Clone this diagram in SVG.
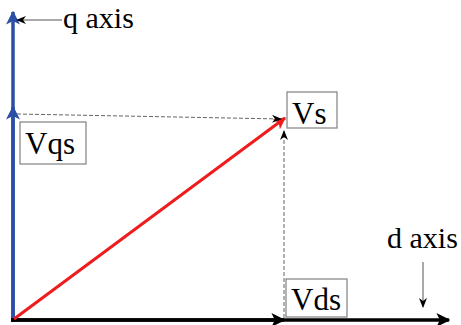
<svg xmlns="http://www.w3.org/2000/svg" width="461" height="325" viewBox="0 0 461 325">
<style>
.box{fill:#fff;stroke:#808080;stroke-width:1.2}
.dash{fill:none;stroke:#666;stroke-width:1;stroke-dasharray:4,2}
.thin{fill:none;stroke:#555;stroke-width:1}
</style>
<defs>
<marker id="ab" markerWidth="4" markerHeight="4" refX="3.6" refY="2" orient="auto" markerUnits="strokeWidth"><path d="M0,0 L4,2 L0,4 L1,2 z" fill="#2B4FA6"/></marker>
<marker id="ak" markerWidth="4" markerHeight="4" refX="3.6" refY="2" orient="auto" markerUnits="strokeWidth"><path d="M0,0 L4,2 L0,4 L1,2 z" fill="#000"/></marker>
<marker id="ar" markerWidth="4" markerHeight="4" refX="3.6" refY="2" orient="auto" markerUnits="strokeWidth"><path d="M0,0 L4,2 L0,4 L1,2 z" fill="#EE1C1C"/></marker>
<marker id="as" markerWidth="10" markerHeight="8" refX="9" refY="4" orient="auto" markerUnits="userSpaceOnUse"><path d="M0,0 L10,4 L0,8 L3,4 z" fill="#000"/></marker>
</defs>
<g id="connectors">
<line x1="13" y1="322" x2="13" y2="12" stroke="#2B4FA6" stroke-width="3.5" marker-end="url(#ab)"/>
<line x1="13" y1="322" x2="13" y2="107" stroke="#2B4FA6" stroke-width="3.5" marker-end="url(#ab)"/>
<line x1="11" y1="320" x2="449" y2="320" stroke="#000" stroke-width="3.5" marker-end="url(#ak)"/>
<line x1="11" y1="320" x2="284" y2="320" stroke="#000" stroke-width="3.5" marker-end="url(#ak)"/>
<line x1="14" y1="319" x2="285" y2="118" stroke="#EE1C1C" stroke-width="3" marker-end="url(#ar)"/>
<line x1="17" y1="114" x2="281" y2="119" class="dash" marker-end="url(#as)"/>
<line x1="284" y1="318" x2="284" y2="131" class="dash" marker-end="url(#as)"/>
<line x1="62" y1="20" x2="17" y2="20" class="thin" marker-end="url(#as)"/>
<line x1="423" y1="262" x2="423" y2="307" class="thin" marker-end="url(#as)"/>
</g>
<g id="q-axis"><text x="63" y="28" font-family="Liberation Serif" font-size="30">q axis</text></g>
<g id="d-axis"><text x="387" y="248" font-family="Liberation Serif" font-size="30">d axis</text></g>
<g id="Vs"><rect class="box" x="287" y="92" width="50" height="36"/><text x="292" y="124" font-family="Liberation Serif" font-size="31">Vs</text></g>
<g id="Vqs"><rect class="box" x="20" y="122" width="66" height="42"/><text x="25" y="154" font-family="Liberation Serif" font-size="31">Vqs</text></g>
<g id="Vds"><rect class="box" x="286" y="279" width="61" height="38"/><text x="291" y="310" font-family="Liberation Serif" font-size="31">Vds</text></g>
</svg>
